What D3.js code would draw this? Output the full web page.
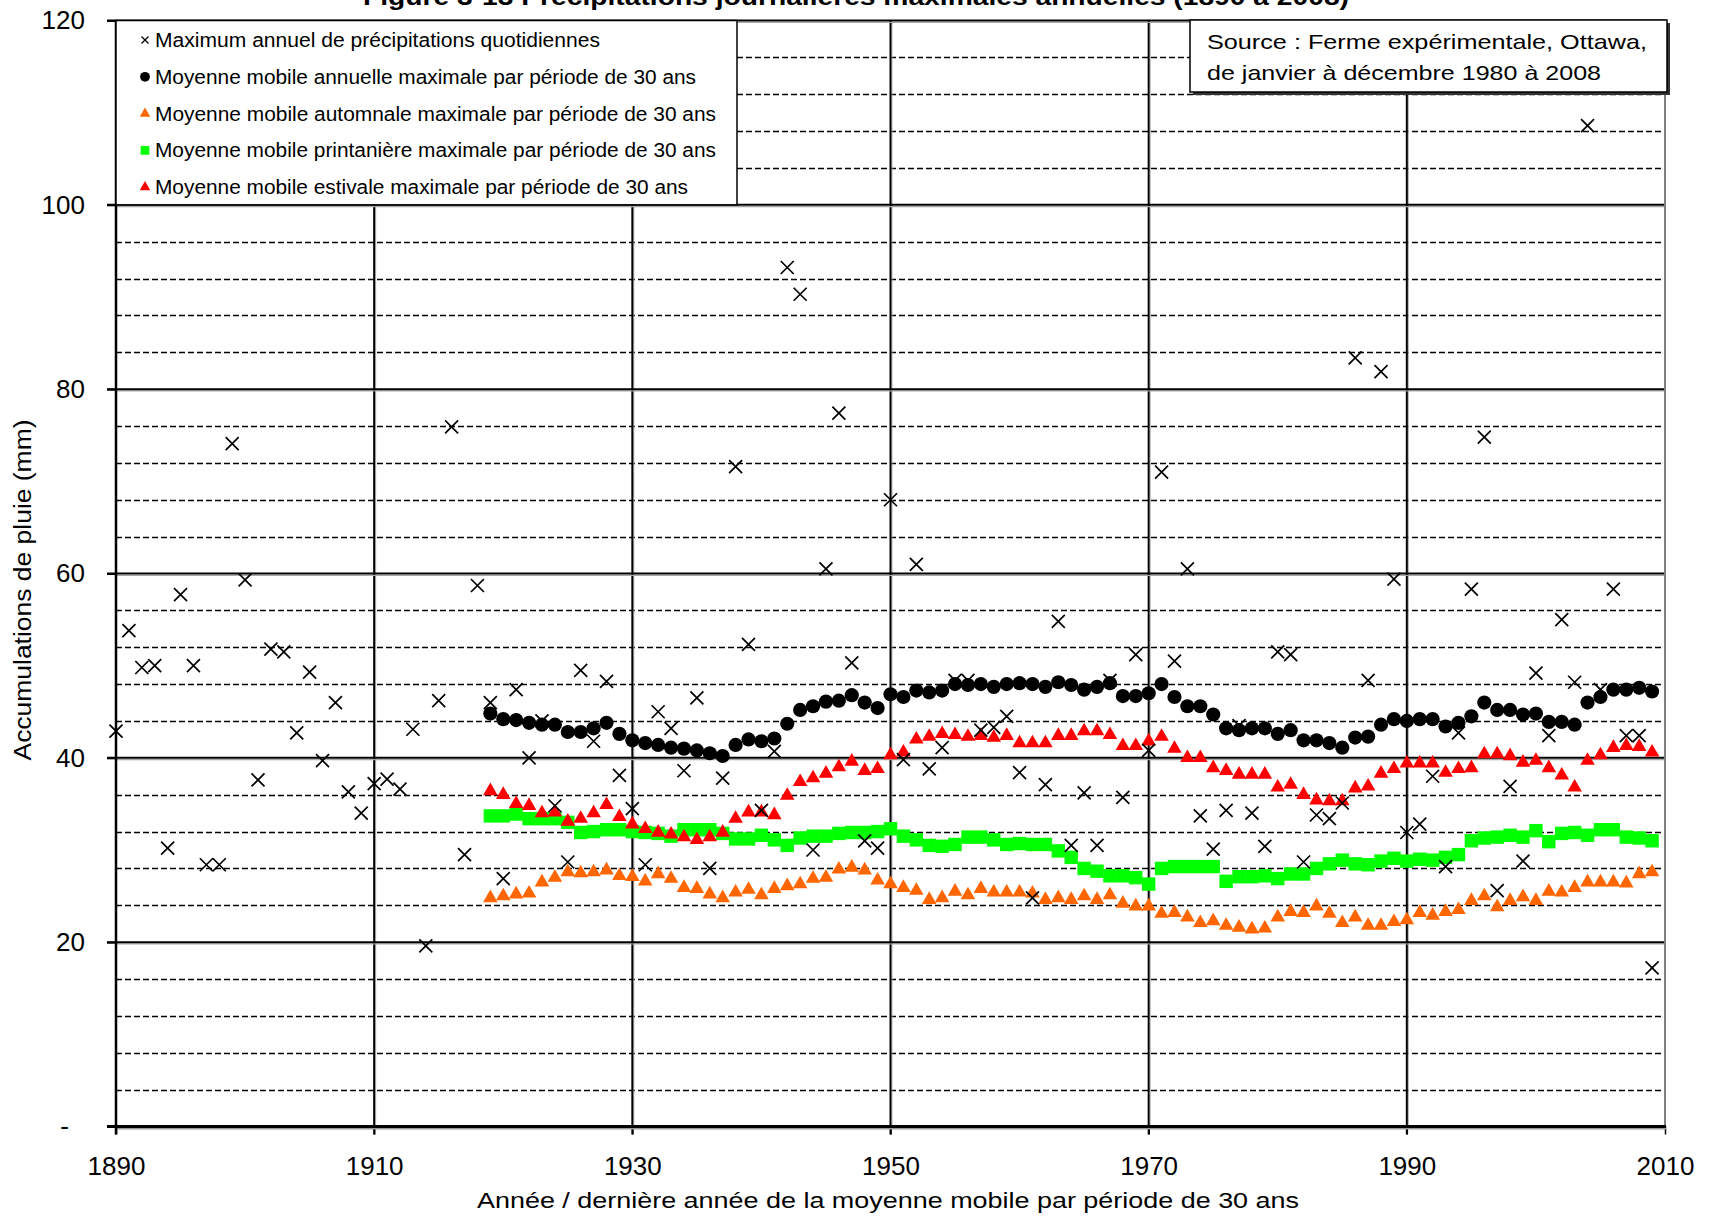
<!DOCTYPE html>
<html>
<head>
<meta charset="utf-8">
<script src="https://cdn.jsdelivr.net/npm/d3@7"></script>
<style>
  html, body { margin: 0; padding: 0; background: #fff; }
  svg { display: block; font-family: "Liberation Sans", Arial, sans-serif; }
</style>
</head>
<body>
<svg id="chart" width="1711" height="1225"></svg>
<script>
// Annual maximum daily rainfall, Ottawa experimental farm, 1890-2009
const maxYears = d3.range(1890, 2010);
const annualMax = [
  42.9, 53.8, 49.8, 50.0, 30.2, 57.7, 50.0, 28.4, 28.4, 74.1,
  59.3, 37.6, 51.8, 51.5, 42.7, 49.3, 39.7, 46.0, 36.3, 34.0,
  37.2, 37.7, 36.6, 43.1, 19.6, 46.2, 75.9, 29.5, 58.7, 46.0,
  26.9, 47.4, 40.0, 44.0, 34.8, 28.7, 49.5, 41.8, 48.3, 38.1,
  34.5, 28.4, 45.0, 43.2, 38.6, 46.5, 28.0, 37.8, 71.6, 52.3,
  34.3, 40.7, 93.2, 90.3, 30.0, 60.5, 77.4, 50.3, 31.0, 30.2,
  68.0, 39.8, 61.0, 38.8, 41.1, 48.4, 48.4, 43.0, 43.3, 44.5,
  38.4, 24.8, 37.1, 54.8, 30.5, 36.2, 30.5, 48.4, 35.7, 51.2,
  40.8, 71.0, 50.5, 60.5, 33.7, 30.1, 34.3, 43.5, 34.0, 30.4,
  51.5, 51.2, 28.7, 33.8, 33.4, 35.1, 83.4, 48.4, 81.9, 59.4,
  31.9, 32.8, 38.0, 28.2, 42.7, 58.3, 74.8, 25.6, 36.9, 28.8,
  49.2, 42.4, 55.0, 48.2, 108.6, 47.4, 58.3, 42.4, 42.4, 17.2
];

// 30-year moving averages, indexed by the last year of each window (1919-2009)
const avgYears = d3.range(1919, 2010);
const annualAvg = [
  44.8, 44.2, 44.1, 43.8, 43.6, 43.6, 42.8, 42.8, 43.2, 43.8,
  42.6, 41.9, 41.6, 41.4, 41.1, 41.0, 40.8, 40.5, 40.2, 41.4,
  42.0, 41.8, 42.1, 43.7, 45.2, 45.6, 46.1, 46.2, 46.8, 46.0,
  45.4, 46.9, 46.6, 47.3, 47.1, 47.3, 48.0, 47.9, 48.0, 47.7,
  48.0, 48.1, 48.0, 47.7, 48.2, 47.9, 47.4, 47.7, 48.1, 46.7,
  46.7, 47.0, 48.0, 46.6, 45.6, 45.6, 44.7, 43.2, 43.0, 43.2,
  43.2, 42.6, 43.0, 41.9, 41.9, 41.6, 41.1, 42.2, 42.3, 43.6,
  44.2, 44.0, 44.2, 44.2, 43.4, 43.8, 44.5, 46.0, 45.2, 45.2,
  44.7, 44.8, 43.9, 43.9, 43.6, 46.0, 46.6, 47.4, 47.4, 47.6,
  47.2
];
const autumnAvg = [
  24.8, 25.0, 25.2, 25.3, 26.5, 27.0, 27.6, 27.5, 27.6, 27.8,
  27.2, 27.1, 26.6, 27.4, 26.9, 25.9, 25.8, 25.2, 24.8, 25.4,
  25.7, 25.1, 25.8, 26.1, 26.3, 26.9, 27.0, 27.9, 28.1, 27.8,
  26.7, 26.3, 25.9, 25.6, 24.6, 24.8, 25.5, 25.1, 25.8, 25.4,
  25.4, 25.4, 25.3, 24.6, 24.8, 24.6, 25.0, 24.6, 25.1, 24.2,
  23.9, 23.9, 23.1, 23.2, 22.7, 22.1, 22.3, 21.8, 21.6, 21.4,
  21.5, 22.7, 23.3, 23.2, 23.9, 23.1, 22.1, 22.7, 21.8, 21.8,
  22.2, 22.4, 23.2, 22.9, 23.3, 23.5, 24.5, 25.0, 23.8, 24.5,
  24.9, 24.5, 25.5, 25.4, 25.9, 26.5, 26.5, 26.5, 26.4, 27.4,
  27.6
];
const springAvg = [
  33.7, 33.7, 33.9, 33.4, 33.4, 33.4, 33.0, 31.9, 32.0, 32.2,
  32.2, 32.0, 31.9, 31.8, 31.5, 32.2, 32.2, 32.2, 31.8, 31.2,
  31.2, 31.6, 31.1, 30.5, 31.3, 31.5, 31.5, 31.8, 31.9, 31.9,
  32.0, 32.3, 31.5, 31.1, 30.5, 30.4, 30.6, 31.4, 31.4, 31.1,
  30.6, 30.7, 30.6, 30.6, 29.9, 29.2, 28.0, 27.7, 27.2, 27.2,
  27.0, 26.3, 28.0, 28.2, 28.2, 28.2, 28.2, 26.6, 27.1, 27.1,
  27.2, 26.9, 27.4, 27.4, 28.0, 28.5, 28.9, 28.5, 28.4, 28.8,
  29.1, 28.8, 29.0, 28.9, 29.2, 29.5, 31.0, 31.3, 31.4, 31.6,
  31.4, 32.1, 30.9, 31.8, 31.9, 31.6, 32.2, 32.2, 31.4, 31.3,
  31.0
];
const summerAvg = [
  36.4, 36.0, 35.0, 34.8, 34.0, 34.1, 33.1, 33.4, 34.0, 34.9,
  33.6, 32.8, 32.3, 31.9, 31.7, 31.4, 31.1, 31.4, 31.9, 33.4,
  34.1, 34.1, 33.8, 35.9, 37.4, 37.8, 38.3, 39.0, 39.6, 38.6,
  38.8, 40.3, 40.6, 42.0, 42.3, 42.6, 42.5, 42.3, 42.4, 42.2,
  42.4, 41.6, 41.6, 41.6, 42.4, 42.4, 42.9, 42.9, 42.5, 41.3,
  41.3, 41.8, 42.3, 41.0, 40.0, 40.0, 38.9, 38.6, 38.2, 38.2,
  38.2, 36.8, 37.1, 36.0, 35.4, 35.3, 35.3, 36.7, 36.9, 38.3,
  38.8, 39.4, 39.4, 39.4, 38.4, 38.8, 38.9, 40.4, 40.4, 40.2,
  39.5, 39.7, 38.9, 38.1, 36.8, 39.7, 40.3, 41.1, 41.3, 41.2,
  40.6
];

const xTicks = [1890, 1910, 1930, 1950, 1970, 1990, 2010];
const yMajorTicks = [0, 20, 40, 60, 80, 100, 120];
const yMinorTicks = [4, 8, 12, 16, 24, 28, 32, 36, 44, 48, 52, 56, 64, 68, 72, 76, 84, 88, 92, 96, 104, 108, 112, 116];

const titleText = "Figure 3-13 Précipitations journalières maximales annuelles (1890 à 2008)";
const xTitle = "Année / dernière année de la moyenne mobile par période de 30 ans";
const yTitle = "Accumulations  de pluie (mm)";
const sourceLines = ["Source : Ferme  expérimentale, Ottawa,", "de janvier à décembre 1980 à 2008"];

const legendItems = [
  { label: "Maximum annuel de précipitations quotidiennes", kind: "x", color: "#000" },
  { label: "Moyenne mobile annuelle maximale par période de 30 ans", kind: "circle", color: "#000" },
  { label: "Moyenne mobile automnale maximale par période de 30 ans", kind: "triangle", color: "#FF6600" },
  { label: "Moyenne mobile printanière maximale par période de 30 ans", kind: "square", color: "#00FF00" },
  { label: "Moyenne mobile estivale maximale par période de 30 ans", kind: "triangle", color: "#FF0000" }
];

(function draw() {
  const svg = d3.select("#chart");
  const pL = 116, pR = 1665, pT = 20.5, pB = 1126.5;

  const x = d3.scaleLinear().domain([1890, 2010]).range([pL, pR]);
  const y = d3.scaleLinear().domain([0, 120]).range([pB, pT]);

  // ---- gridlines ----
  const grid = svg.append("g");
  grid.append("g").selectAll("line").data(yMinorTicks).join("line")
    .attr("x1", pL).attr("x2", pR)
    .attr("y1", d => Math.round(y(d)) + 0.5).attr("y2", d => Math.round(y(d)) + 0.5)
    .attr("stroke", "#000").attr("stroke-width", 1.6)
    .attr("stroke-dasharray", "6,3");

  grid.append("g").selectAll("line").data(xTicks.slice(1, -1)).join("line")
    .attr("x1", d => x(d) + 1.5).attr("x2", d => x(d) + 1.5)
    .attr("y1", pT).attr("y2", pB)
    .attr("stroke", "#b0b0b0").attr("stroke-width", 1);
  grid.append("g").selectAll("line").data(xTicks.slice(1, -1)).join("line")
    .attr("x1", d => x(d)).attr("x2", d => x(d))
    .attr("y1", pT).attr("y2", pB + 8)
    .attr("stroke", "#000").attr("stroke-width", 2);

  grid.append("g").selectAll("line").data(yMajorTicks.slice(1)).join("line")
    .attr("x1", pL).attr("x2", pR)
    .attr("y1", d => y(d) + 1.8).attr("y2", d => y(d) + 1.8)
    .attr("stroke", "#a8a8a8").attr("stroke-width", 1.2);
  grid.append("g").selectAll("line").data(yMajorTicks.slice(1)).join("line")
    .attr("x1", pL - 9).attr("x2", pR)
    .attr("y1", d => y(d)).attr("y2", d => y(d))
    .attr("stroke", "#000").attr("stroke-width", 2);

  // right border
  grid.append("line")
    .attr("x1", pR).attr("x2", pR).attr("y1", pT).attr("y2", pB)
    .attr("stroke", "#808080").attr("stroke-width", 2);

  // ---- axes ----
  const xAxis = d3.axisBottom(x).tickValues(xTicks).tickFormat(d3.format("d")).tickSize(8).tickPadding(22);
  const gx = svg.append("g").attr("transform", `translate(0,${pB})`).call(xAxis);
  gx.select(".domain").remove();
  gx.selectAll(".tick line").attr("stroke", "#000").attr("stroke-width", 1.5);
  gx.selectAll(".tick text").attr("font-size", 26).attr("fill", "#000")
    .attr("font-family", "'Liberation Sans', Arial, sans-serif");

  const yAxis = d3.axisLeft(y).tickValues(yMajorTicks)
    .tickFormat(d => d === 0 ? "-" : d3.format("d")(d)).tickSize(9).tickPadding(22);
  const gy = svg.append("g").attr("transform", `translate(${pL},0)`).call(yAxis);
  gy.select(".domain").remove();
  gy.selectAll(".tick line").attr("stroke", "#000").attr("stroke-width", 2);
  gy.selectAll(".tick text").attr("font-size", 26).attr("fill", "#000")
    .attr("font-family", "'Liberation Sans', Arial, sans-serif")
    .attr("dx", d => d === 0 ? -16 : 0);

  // axis lines
  svg.append("line").attr("x1", pL).attr("x2", pR + 1)
    .attr("y1", pB + 2).attr("y2", pB + 2)
    .attr("stroke", "#9a9a9a").attr("stroke-width", 2);
  svg.append("line").attr("x1", pL - 9).attr("x2", pR + 1)
    .attr("y1", pB).attr("y2", pB)
    .attr("stroke", "#000").attr("stroke-width", 3);
  svg.append("line").attr("x1", pL).attr("x2", pL)
    .attr("y1", pT).attr("y2", pB + 8)
    .attr("stroke", "#000").attr("stroke-width", 2.5);

  // ---- markers ----
  const marks = svg.append("g");
  const triPath = d3.symbol(d3.symbolTriangle, 92)();
  const sqPath = d3.symbol(d3.symbolSquare, 180)();
  const circPath = d3.symbol(d3.symbolCircle, 158)();
  const xPath = "M-6.5,-6.5L6.5,6.5M-6.5,6.5L6.5,-6.5";

  function drawSeries(years, values, path, fill) {
    marks.append("g").selectAll("path").data(values).join("path")
      .attr("transform", (d, i) => `translate(${x(years[i])},${y(d)})`)
      .attr("d", path)
      .attr("fill", fill);
  }
  drawSeries(avgYears, autumnAvg, triPath, "#FF6600");
  drawSeries(avgYears, springAvg, sqPath, "#00FF00");
  drawSeries(avgYears, summerAvg, triPath, "#FF0000");
  drawSeries(avgYears, annualAvg, circPath, "#000");

  marks.append("g").selectAll("path").data(annualMax).join("path")
    .attr("transform", (d, i) => `translate(${x(maxYears[i])},${y(d)})`)
    .attr("d", xPath)
    .attr("fill", "none").attr("stroke", "#000").attr("stroke-width", 1.7);

  // ---- legend ----
  const legend = svg.append("g");
  legend.append("rect")
    .attr("x", pL).attr("y", pT).attr("width", 621).attr("height", y(100) - pT)
    .attr("fill", "#fff").attr("stroke", "#000").attr("stroke-width", 1.5);
  const legendWidths = [445, 541, 561, 561, 533];
  legendItems.forEach((it, i) => {
    const cy = 40 + i * 36.8;
    const g = legend.append("g").attr("transform", `translate(145,${cy})`);
    if (it.kind === "x") {
      g.append("path").attr("d", "M-3.5,-3.5L3.5,3.5M-3.5,3.5L3.5,-3.5")
        .attr("stroke", "#000").attr("stroke-width", 1.3).attr("fill", "none");
    } else if (it.kind === "circle") {
      g.append("path").attr("d", d3.symbol(d3.symbolCircle, 75)()).attr("fill", it.color);
    } else if (it.kind === "triangle") {
      g.append("path").attr("d", d3.symbol(d3.symbolTriangle, 48)()).attr("fill", it.color);
    } else {
      g.append("path").attr("d", d3.symbol(d3.symbolSquare, 76)()).attr("fill", it.color);
    }
    legend.append("text")
      .attr("x", 155).attr("y", cy + 7)
      .attr("font-size", 19.5).attr("fill", "#000")
      .attr("textLength", legendWidths[i]).attr("lengthAdjust", "spacingAndGlyphs")
      .text(it.label);
  });

  // ---- source box ----
  const src = svg.append("g");
  src.append("rect").attr("x", 1193).attr("y", 23).attr("width", 477).attr("height", 72)
    .attr("fill", "#333");
  src.append("rect").attr("x", 1190).attr("y", 20).attr("width", 477).attr("height", 72)
    .attr("fill", "#fff").attr("stroke", "#000").attr("stroke-width", 1.5);
  const srcWidths = [440, 394];
  sourceLines.forEach((t, i) => {
    src.append("text").attr("x", 1207).attr("y", 49 + i * 30.5)
      .attr("font-size", 21).attr("fill", "#000")
      .attr("textLength", srcWidths[i]).attr("lengthAdjust", "spacingAndGlyphs")
      .text(t);
  });

  // ---- titles ----
  svg.append("text").attr("x", 856).attr("y", 5)
    .attr("text-anchor", "middle").attr("font-size", 23).attr("font-weight", "bold")
    .attr("textLength", 986).attr("lengthAdjust", "spacingAndGlyphs")
    .text(titleText);

  svg.append("text").attr("x", 888).attr("y", 1208)
    .attr("text-anchor", "middle").attr("font-size", 22).attr("fill", "#000")
    .attr("textLength", 822).attr("lengthAdjust", "spacingAndGlyphs")
    .text(xTitle);

  svg.append("text")
    .attr("transform", "translate(31,590) rotate(-90)")
    .attr("text-anchor", "middle").attr("font-size", 23).attr("fill", "#000")
    .attr("textLength", 341).attr("lengthAdjust", "spacingAndGlyphs")
    .text(yTitle);
})();
</script>
</body>
</html>
